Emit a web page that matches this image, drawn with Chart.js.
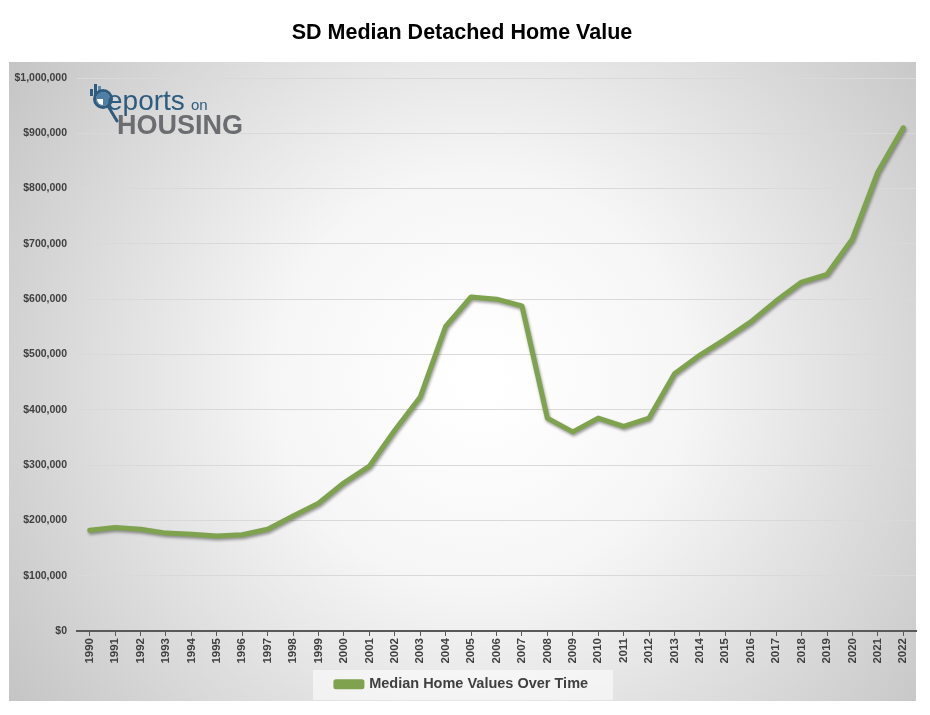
<!DOCTYPE html>
<html>
<head>
<meta charset="utf-8">
<script src="https://cdn.jsdelivr.net/npm/chart.js@4"></script>
<style>
html,body{margin:0;padding:0;background:#fff;}
#wrap{width:930px;height:715px;position:relative;}
</style>
</head>
<body>
<div id="wrap"><canvas id="c" width="930" height="715"></canvas></div>
<script>
const years = ['1990','1991','1992','1993','1994','1995','1996','1997','1998','1999','2000','2001','2002','2003','2004','2005','2006','2007','2008','2009','2010','2011','2012','2013','2014','2015','2016','2017','2018','2019','2020','2021','2022'];
const medianValues = [182000,187000,184000,177000,175000,172000,174000,184000,208000,231000,268000,298000,363000,423000,551000,604000,600000,588000,385000,360000,385000,370000,385000,465000,499000,528000,559000,597000,631000,645000,709000,830000,910000];
const seriesName = 'Median Home Values Over Time';
const chartTitle = 'SD Median Detached Home Value';

const FONT = '"Liberation Sans", Arial, sans-serif';

const bgPlugin = {
  id: 'bgPanel',
  beforeDraw(chart) {
    const ctx = chart.ctx;
    ctx.save();
    const g = ctx.createRadialGradient(480, 380, 20, 480, 380, 640);
    g.addColorStop(0, '#ffffff');
    g.addColorStop(0.3, '#f6f6f6');
    g.addColorStop(1, '#bbbbbb');
    ctx.fillStyle = g;
    ctx.fillRect(9, 62, 907, 639);
    ctx.fillStyle = 'rgba(255,255,255,0.55)';
    ctx.fillRect(313, 670, 300, 30);
    ctx.restore();
  },
  beforeDatasetsDraw(chart) {
    const ctx = chart.ctx;
    ctx.save();
    ctx.shadowColor = 'rgba(0,0,0,0.38)';
    ctx.shadowBlur = 3;
    ctx.shadowOffsetX = 1;
    ctx.shadowOffsetY = 2;
  },
  afterDatasetsDraw(chart) {
    chart.ctx.restore();
  },
  afterDraw(chart) {
    const ctx = chart.ctx;
    ctx.save();
    // logo icon bars
    ctx.fillStyle = '#2f5c7e';
    ctx.fillRect(90, 89, 3, 7);
    ctx.fillRect(94, 84, 3, 12);
    ctx.fillStyle = '#5b8db5';
    ctx.fillRect(98, 86, 3, 10);
    // magnifier lens
    ctx.fillStyle = '#4f7fa6';
    ctx.beginPath();
    ctx.arc(103, 99, 7, 0, Math.PI * 2);
    ctx.fill();
    ctx.fillStyle = '#ffffff';
    ctx.beginPath();
    ctx.moveTo(103, 99);
    ctx.arc(103, 99, 6, Math.PI * 0.5, Math.PI);
    ctx.closePath();
    ctx.fill();
    ctx.strokeStyle = '#2f5c7e';
    ctx.lineWidth = 3;
    ctx.beginPath();
    ctx.arc(103, 99, 8.5, 0, Math.PI * 2);
    ctx.stroke();
    ctx.lineCap = 'round';
    ctx.beginPath();
    ctx.moveTo(108, 106);
    ctx.lineTo(117, 121);
    ctx.stroke();
    ctx.fillStyle = '#2f5c7e';
    ctx.textBaseline = 'alphabetic';
    ctx.font = '28px ' + FONT;
    ctx.fillText('eports', 107, 110);
    ctx.font = '15px ' + FONT;
    ctx.fillText('on', 191, 110);
    ctx.fillStyle = '#6b6d70';
    ctx.font = 'bold 27px ' + FONT;
    ctx.fillText('HOUSING', 117, 134);
    ctx.restore();
  }
};

const lineColor = '#7ea24e';

new Chart(document.getElementById('c'), {
  type: 'line',
  data: {
    labels: years,
    datasets: [{
      label: seriesName,
      data: medianValues,
      borderColor: lineColor,
      backgroundColor: lineColor,
      borderWidth: 5,
      pointRadius: 0,
      pointHoverRadius: 0,
      tension: 0,
      borderJoinStyle: 'round',
      borderCapStyle: 'round',
      fill: false
    }]
  },
  options: {
    responsive: false,
    animation: false,
    devicePixelRatio: 1,
    layout: { padding: { left: 8, right: 14, top: 0, bottom: 13.5 } },
    plugins: {
      title: {
        display: true,
        text: chartTitle,
        color: '#000000',
        font: { family: FONT, size: 21.5, weight: 'bold' },
        padding: { top: 20, bottom: 32.2 }
      },
      legend: {
        display: true,
        position: 'bottom',
        labels: {
          color: '#404040',
          font: { family: FONT, size: 14.5, weight: 'bold' },
          boxWidth: 26,
          boxHeight: 5,
          padding: 9
        }
      },
      tooltip: { enabled: false }
    },
    scales: {
      x: {
        offset: true,
        grid: { display: true, drawOnChartArea: false, drawTicks: true, tickLength: 5, color: '#595959', offset: false },
        border: { display: true, color: '#595959', width: 2 },
        ticks: {
          color: '#404040',
          font: { family: FONT, size: 11.5, weight: 'bold' },
          minRotation: 90, maxRotation: 90, autoSkip: false, padding: 2
        },
        afterFit(s) { s.height = 37; }
      },
      y: {
        min: 0, max: 1000000,
        grid: { color: '#d9d9d9', lineWidth: 1, drawTicks: false },
        border: { display: false },
        ticks: {
          stepSize: 100000,
          padding: 10,
          color: '#404040',
          font: { family: FONT, size: 10.5, weight: 'bold' },
          callback: v => '$' + Number(v).toLocaleString('en-US')
        },
        afterFit(s) { s.width = 69; }
      }
    }
  },
  plugins: [bgPlugin]
});
</script>
</body>
</html>
